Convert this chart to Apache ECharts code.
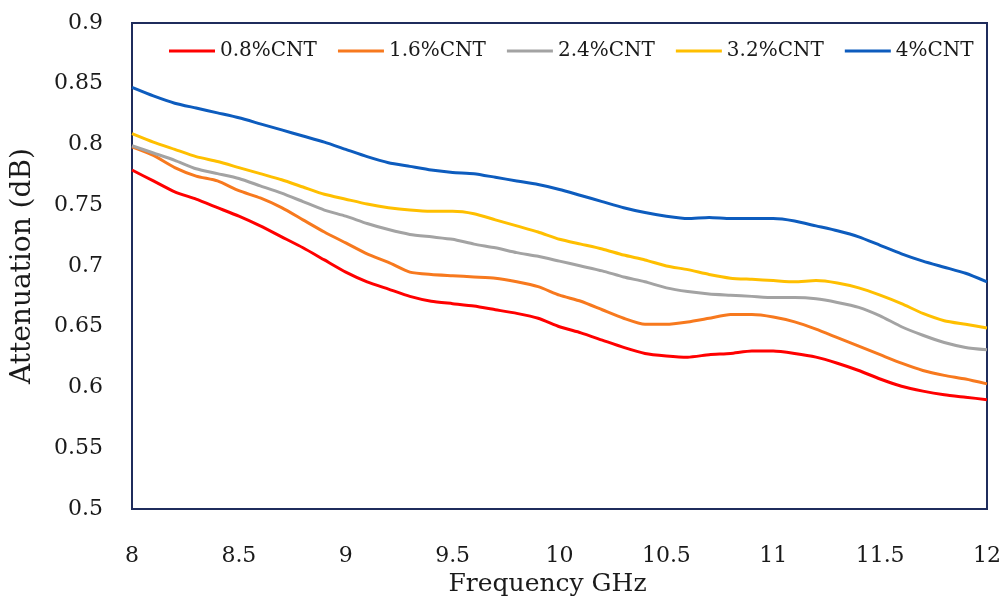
<!DOCTYPE html>
<html>
<head>
<meta charset="utf-8">
<script src="https://cdn.jsdelivr.net/npm/echarts@6/dist/echarts.min.js"></script>
<style>
html, body { margin: 0; padding: 0; background: #fff; }
#chart { width: 1004px; height: 602px; }
</style>
</head>
<body>
<div id="chart"></div>
<script>
// frequency (GHz), read at 0.1 GHz steps
var freq = [8.0, 8.1, 8.2, 8.3, 8.4, 8.5, 8.6, 8.7, 8.8, 8.9,
            9.0, 9.1, 9.2, 9.3, 9.4, 9.5, 9.6, 9.7, 9.8, 9.9,
            10.0, 10.1, 10.2, 10.3, 10.4, 10.5, 10.6, 10.7, 10.8, 10.9,
            11.0, 11.1, 11.2, 11.3, 11.4, 11.5, 11.6, 11.7, 11.8, 11.9, 12.0];

var cnt08 = [0.779, 0.770, 0.761, 0.755, 0.748, 0.741, 0.733, 0.724, 0.715, 0.705,
             0.695, 0.687, 0.681, 0.675, 0.671, 0.669, 0.667, 0.664, 0.661, 0.657,
             0.650, 0.645, 0.639, 0.633, 0.628, 0.626, 0.625, 0.627, 0.628, 0.630,
             0.630, 0.628, 0.625, 0.620, 0.614, 0.607, 0.601, 0.597, 0.594, 0.592, 0.590];
var cnt16 = [0.798, 0.791, 0.781, 0.774, 0.770, 0.762, 0.756, 0.748, 0.738, 0.728,
             0.719, 0.710, 0.703, 0.695, 0.693, 0.692, 0.691, 0.690, 0.687, 0.683,
             0.676, 0.671, 0.664, 0.657, 0.652, 0.652, 0.654, 0.657, 0.660, 0.660,
             0.658, 0.654, 0.648, 0.641, 0.634, 0.627, 0.620, 0.614, 0.610, 0.607, 0.603];
var cnt24 = [0.799, 0.793, 0.787, 0.780, 0.776, 0.772, 0.766, 0.760, 0.753, 0.746,
             0.741, 0.735, 0.730, 0.726, 0.724, 0.722, 0.718, 0.715, 0.711, 0.708,
             0.704, 0.700, 0.696, 0.691, 0.687, 0.682, 0.679, 0.677, 0.676, 0.675,
             0.674, 0.674, 0.673, 0.670, 0.666, 0.659, 0.650, 0.643, 0.637, 0.633, 0.631];
var cnt32 = [0.809, 0.802, 0.796, 0.790, 0.786, 0.781, 0.776, 0.771, 0.765, 0.759,
             0.755, 0.751, 0.748, 0.746, 0.745, 0.745, 0.743, 0.738, 0.733, 0.728,
             0.722, 0.718, 0.714, 0.709, 0.705, 0.700, 0.697, 0.693, 0.690, 0.689,
             0.688, 0.687, 0.688, 0.686, 0.682, 0.676, 0.669, 0.661, 0.655, 0.652, 0.649];
var cnt40 = [0.847, 0.840, 0.834, 0.830, 0.826, 0.822, 0.817, 0.812, 0.807, 0.802,
             0.796, 0.790, 0.785, 0.782, 0.779, 0.777, 0.776, 0.773, 0.770, 0.767,
             0.763, 0.758, 0.753, 0.748, 0.744, 0.741, 0.739, 0.740, 0.739, 0.739,
             0.739, 0.737, 0.733, 0.729, 0.724, 0.717, 0.710, 0.704, 0.699, 0.694, 0.687];

var names = ['0.8%CNT', '1.6%CNT', '2.4%CNT', '3.2%CNT', '4%CNT'];
var colors = ['#ff0000', '#f7791e', '#a3a3a3', '#ffbf00', '#0d5cbe'];
var values = [cnt08, cnt16, cnt24, cnt32, cnt40];

var font = 'DejaVu Serif';
var frame = '#1f2c5c';

var series = names.map(function (n, i) {
    return {
        name: n,
        type: 'line',
        symbol: 'none',
        smooth: 0.2,
        lineStyle: { width: 3, color: colors[i] },
        itemStyle: { color: colors[i] },
        data: freq.map(function (f, k) { return [f, values[i][k]]; })
    };
});

var myChart = echarts.init(document.getElementById('chart'));
myChart.setOption({
    animation: false,
    backgroundColor: '#fff',
    grid: {
        left: 132, right: 17, top: 23, bottom: 86,
        show: true,
        borderColor: frame,
        borderWidth: 2
    },
    legend: {
        left: 164,
        top: 36,
        icon: 'rect',
        itemWidth: 46,
        itemHeight: 3,
        itemGap: 21,
        textStyle: { fontFamily: font, fontSize: 20, color: '#1a1a1a' },
        data: names
    },
    xAxis: {
        type: 'value',
        min: 8, max: 12, interval: 0.5,
        name: 'Frequency GHz',
        nameLocation: 'middle',
        nameGap: 63,
        nameTextStyle: { fontFamily: font, fontSize: 25, color: '#1a1a1a', padding: [0, 24, 0, 0] },
        axisLine: { lineStyle: { color: frame, width: 2 } },
        axisTick: { show: false },
        splitLine: { show: false },
        axisLabel: {
            margin: 36,
            fontFamily: font, fontSize: 22, color: '#1a1a1a',
            formatter: function (v) { return String(+v.toFixed(2)); }
        }
    },
    yAxis: {
        type: 'value',
        min: 0.5, max: 0.9, interval: 0.05,
        name: 'Attenuation (dB)',
        nameLocation: 'middle',
        nameGap: 95,
        nameTextStyle: { fontFamily: font, fontSize: 28, color: '#1a1a1a' },
        axisLine: { show: true, lineStyle: { color: frame, width: 2 } },
        axisTick: { show: false },
        splitLine: { show: false },
        axisLabel: {
            margin: 29,
            fontFamily: font, fontSize: 22, color: '#1a1a1a',
            formatter: function (v) { return String(+v.toFixed(2)); }
        }
    },
    series: series
});
window.onresize = myChart.resize;
</script>
</body>
</html>
